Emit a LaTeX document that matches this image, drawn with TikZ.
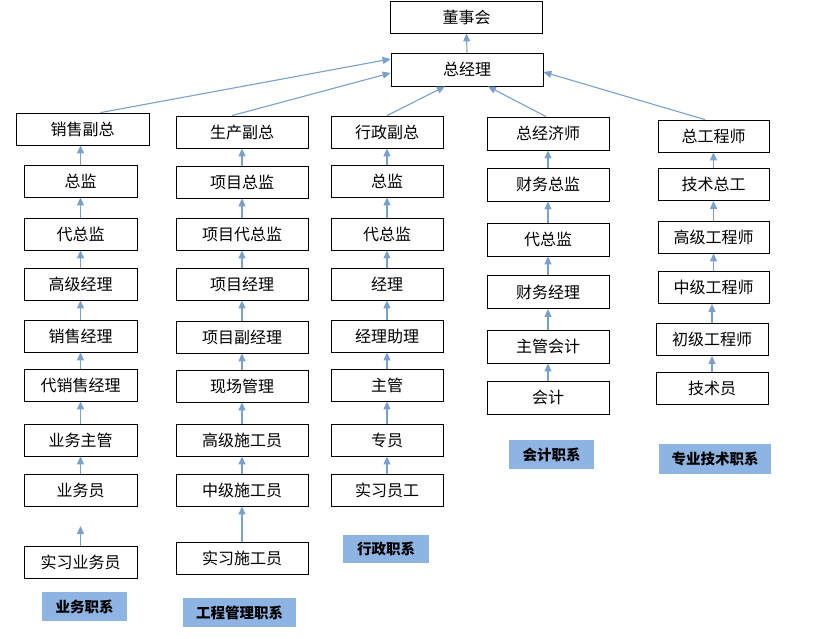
\documentclass[tikz,border=0pt]{standalone}
\usepackage{fontspec}
\setmainfont{Noto Sans CJK SC}
\usetikzlibrary{arrows.meta}
\definecolor{linkblue}{RGB}{122,160,204}
\definecolor{tagblue}{RGB}{141,180,226}

\begin{document}
\begin{tikzpicture}[x=1pt,y=-1pt,>={Triangle[length=8pt,width=7pt]},
  post/.style={draw,line width=0.8pt,minimum height=32pt,inner sep=0pt,font=\fontsize{16}{17}\selectfont},
  tag/.style={fill=tagblue,minimum height=29pt,inner sep=0pt,font=\bfseries\fontsize{14.5}{15}\selectfont},
  link/.style={->,linkblue,line width=1.1pt}]
  \useasboundingbox (0,0) rectangle (816,639);
  % top of the chart
  \node[post,minimum width=152pt] (board) at (466.5,17) {董事会};
  \node[post,minimum width=152pt,minimum height=33pt] (gm) at (467,69.5) {总经理};
  \draw[link] (gm.north) -- (board.south);
  % column 1: sales
  \node[post,minimum width=133pt] (s1) at (82.5,129) {销售副总};
  \foreach \n/\t/\y in {s2/总监/181,s3/代总监/234,s4/高级经理/284,s5/销售经理/336,
    s6/代销售经理/385,s7/业务主管/440,s8/业务员/490,s9/实习业务员/562}
    \node[post,minimum width=113pt] (\n) at (80.5,\y) {\t};
  \node[tag,minimum width=85pt] (t1) at (84.5,606.5) {业务职系};
  % column 2: engineering
  \foreach \n/\t/\y in {e1/生产副总/132,e2/项目总监/182,e3/项目代总监/234,e4/项目经理/284,
    e5/项目副经理/337,e6/现场管理/386,e7/高级施工员/440,e8/中级施工员/490,e9/实习施工员/558}
    \node[post,minimum width=132pt] (\n) at (242,\y) {\t};
  \node[tag,minimum width=113pt] (t2) at (239.5,612.5) {工程管理职系};
  % column 3: administration
  \foreach \n/\t/\y in {a1/行政副总/132,a2/总监/181,a3/代总监/234,a4/经理/284,
    a5/经理助理/336,a6/主管/385,a7/专员/440,a8/实习员工/490}
    \node[post,minimum width=112pt] (\n) at (387,\y) {\t};
  \node[tag,minimum width=86pt,minimum height=28pt] (t3) at (386,549) {行政职系};
  % column 4: accounting
  \foreach \n/\t/\y in {f1/总经济师/133.5,f2/财务总监/184.5,f3/代总监/239.5,f4/财务经理/292,
    f5/主管会计/346.5,f6/会计/397.5}
    \node[post,minimum width=122pt,minimum height=33pt] (\n) at (548,\y) {\t};
  \node[tag,minimum width=85pt] (t4) at (551.5,454.5) {会计职系};
  % column 5: technical
  \foreach \n/\t/\y in {p1/总工程师/136,p2/技术总工/184.5,p3/高级工程师/237,p4/中级工程师/287.5}
    \node[post,minimum width=111pt] (\n) at (713.5,\y) {\t};
  \foreach \n/\t/\y in {p5/初级工程师/339.5,p6/技术员/388}
    \node[post,minimum width=112pt] (\n) at (712,\y) {\t};
  \node[tag,minimum width=112pt,minimum height=30pt] (t5) at (715,459) {专业技术职系};
  % links inside the columns
  \foreach \a/\b in {s2/s1,s3/s2,s4/s3,s5/s4,s6/s5,s7/s6,s8/s7,
    e2/e1,e3/e2,e4/e3,e5/e4,e6/e5,e7/e6,e8/e7,e9/e8,
    a2/a1,a3/a2,a4/a3,a5/a4,a6/a5,a7/a6,a8/a7,
    f2/f1,f3/f2,f4/f3,f5/f4,f6/f5,
    p2/p1,p3/p2,p4/p3,p5/p4,p6/p5}
    \draw[link] (\a.north) -- (\a.north |- \b.south);
  \coordinate (s8tip) at (80.5,526);
  \draw[link] (s9.north) -- (s8tip);
  % links up to the general manager
  \draw[link] ([xshift=18pt]s1.north) -- ([yshift=10.5pt]gm.west);
  \draw[link] ([xshift=-10pt]e1.north) -- ([yshift=-3.5pt]gm.west);
  \draw[link] (a1.north) -- ([xshift=-22pt]gm.south);
  \draw[link] ([xshift=-2pt]f1.north) -- ([xshift=21pt]gm.south);
  \draw[link] ([xshift=-8.5pt]p1.north) -- ([yshift=-2.5pt]gm.east);
\end{tikzpicture}
\end{document}
